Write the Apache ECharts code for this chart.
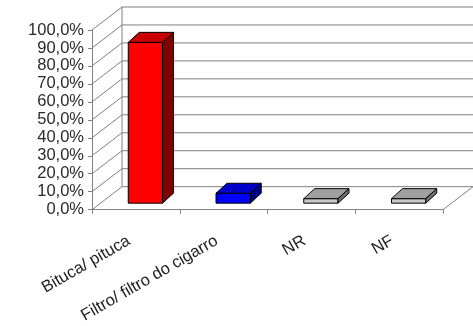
<!DOCTYPE html>
<html>
<head>
<meta charset="utf-8">
<script src="https://cdn.jsdelivr.net/npm/echarts@6/dist/echarts.min.js"></script>
<style>
html, body { margin: 0; padding: 0; background: #fff; }
#main { width: 473px; height: 326px; }
</style>
</head>
<body>
<div id="main"></div>
<script>
// dados do grafico
var categories = ['Bituca/ pituca', 'Filtro/ filtro do cigarro', 'NR', 'NF'];
var values = [89.5, 5.5, 2.5, 2.5];
var yTicks = [0, 10, 20, 30, 40, 50, 60, 70, 80, 90, 100];

// cores: frente, topo, lado
var barColors = [
	['#ff0000', '#c80000', '#800000'],
	['#0000ff', '#0000c8', '#000080'],
	['#c8c8c8', '#a0a0a0', '#6e6e6e'],
	['#c8c8c8', '#a0a0a0', '#6e6e6e']
];

var DX = 30, DY = -23;   // profundidade da parede
var BDX = 11, BDY = -10; // profundidade da barra
var gridColor = '#808080';

function renderFrame(params, api) {
	var cs = params.coordSys;
	var left = cs.x, right = cs.x + cs.width;
	var v = api.value(1);
	var y = api.coord([0, v])[1];
	var kids = [
		{ type: 'line', shape: { x1: left, y1: y, x2: left + DX, y2: y + DY }, style: { stroke: gridColor, lineWidth: 1 } },
		{ type: 'line', shape: { x1: left + DX, y1: y + DY, x2: right + DX, y2: y + DY }, style: { stroke: gridColor, lineWidth: 1 } }
	];
	if (params.dataIndex === 0) {
		var yTop = api.coord([0, yTicks[yTicks.length - 1]])[1];
		kids.push({ type: 'line', shape: { x1: left + DX, y1: y + DY, x2: left + DX, y2: yTop + DY }, style: { stroke: gridColor, lineWidth: 1 } });
		kids.push({ type: 'line', shape: { x1: right, y1: y, x2: right + DX, y2: y + DY }, style: { stroke: gridColor, lineWidth: 1 } });
	}
	return { type: 'group', children: kids };
}

function renderBar(params, api) {
	var i = api.value(0), v = api.value(1);
	var top = api.coord([i, v]), base = api.coord([i, 0]);
	var bw = api.size([1, 0])[0] * 0.39;
	var ox = (DX - BDX) / 2, oy = (DY - BDY) / 2;
	var x0 = top[0] - bw / 2 + ox, x1 = x0 + bw;
	var yT = top[1] + oy, yB = base[1] + oy;
	var c = barColors[i];
	var st = function (f) { return { fill: f, stroke: '#000', lineWidth: 1 }; };
	return {
		type: 'group',
		children: [
			{ type: 'polygon', shape: { points: [[x0, yT], [x1, yT], [x1, yB], [x0, yB]] }, style: st(c[0]) },
			{ type: 'polygon', shape: { points: [[x0, yT], [x0 + BDX, yT + BDY], [x1 + BDX, yT + BDY], [x1, yT]] }, style: st(c[1]) },
			{ type: 'polygon', shape: { points: [[x1, yT], [x1 + BDX, yT + BDY], [x1 + BDX, yB + BDY], [x1, yB]] }, style: st(c[2]) }
		]
	};
}

var myChart = echarts.init(document.getElementById('main'), null, { renderer: 'canvas' });

var option = {
	backgroundColor: '#fff',
	animation: false,
	grid: { left: 92, right: 30, top: 30, bottom: 116 },
	xAxis: {
		type: 'category',
		data: categories,
		axisLine: { lineStyle: { color: gridColor } },
		axisTick: { show: true, interval: 0, length: 4, lineStyle: { color: gridColor } },
		axisLabel: {
			interval: 0,
			rotate: 30,
			margin: 26,
			padding: [0, 8, 0, 0],
			fontFamily: 'Liberation Sans',
			fontSize: 16.5,
			color: '#222'
		},
		splitLine: { show: false }
	},
	yAxis: {
		type: 'value',
		min: 0,
		max: 100,
		interval: 10,
		axisLine: { show: true, lineStyle: { color: gridColor } },
		axisTick: { show: true, length: 4, lineStyle: { color: gridColor } },
		axisLabel: {
			margin: 8,
			fontFamily: 'Liberation Sans',
			fontSize: 16.5,
			color: '#2a2a2a',
			formatter: function (v) { return v.toFixed(1).replace('.', ',') + '%'; }
		},
		splitLine: { show: false }
	},
	series: [
		{
			type: 'custom',
			z: 1,
			silent: true,
			renderItem: renderFrame,
			encode: { x: 0, y: 1 },
			data: yTicks.map(function (t) { return [0, t]; })
		},
		{
			type: 'custom',
			z: 5,
			renderItem: renderBar,
			encode: { x: 0, y: 1 },
			data: values.map(function (v, i) { return [i, v]; })
		}
	]
};
myChart.setOption(option);
</script>
</body>
</html>
